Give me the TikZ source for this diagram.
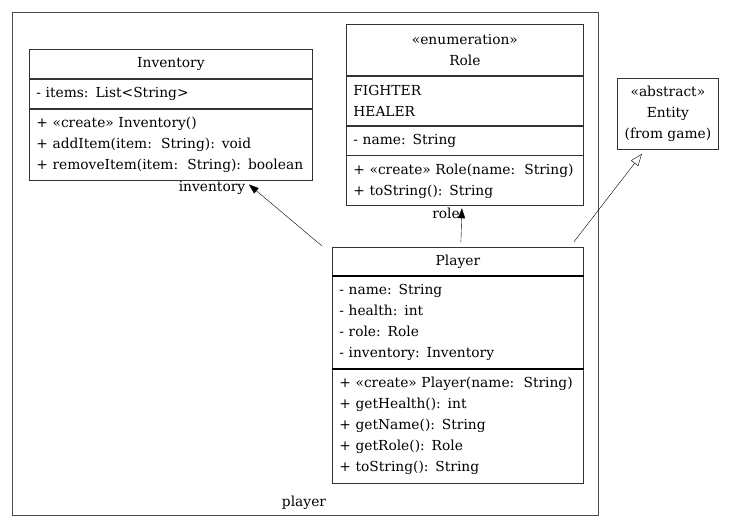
\documentclass[tikz,border=0pt]{standalone}
\usepackage{fontspec}
\setmainfont{DejaVu Serif}
\usetikzlibrary{arrows.meta}

\begin{document}
\begin{tikzpicture}[x=1pt,y=-1pt,
    box/.style={draw=black!80, line width=0.8pt, anchor=north west, inner xsep=7pt, inner ysep=0pt, font=\fontsize{13.8}{21}\selectfont},
    lbl/.style={font=\fontsize{13.8}{21}\selectfont}]
\useasboundingbox (0,0) rectangle (731,528);
% package player
\node (pkg) [draw=black!70, line width=1.2pt, anchor=north west, minimum width=586, minimum height=503, inner sep=0pt] at (12,12) {};
\node (pkglbl) [lbl] at (304,503) {player};
% Inventory
\node (invT) [box, minimum width=283, minimum height=29, align=center] at (29,49) {Inventory};
\node (invA) [box, minimum height=29, text width=269, align=left] at (invT.south west) {- items: List<String>};
\node (invM) [box, minimum height=71, text width=269, align=left] at (invA.south west) {+ «create» Inventory()\\+ addItem(item:\ \ String): void\\+ removeItem(item:\ \ String): boolean};
% Role
\node (roleT) [box, minimum width=237, minimum height=51, align=center] at (346,24) {«enumeration»\\Role};
\node (roleE) [box, minimum height=49, text width=223, align=left] at (roleT.south west) {FIGHTER\\HEALER};
\node (roleA) [box, minimum height=29, text width=223, align=left] at (roleE.south west) {- name: String};
\node (roleM) [box, minimum height=50, text width=223, align=left] at (roleA.south west) {+ «create» Role(name:\ \ String)\\+ toString(): String};
% Entity
\node (ent) [box, minimum width=101, minimum height=71, inner xsep=0pt, align=center] at (617,78) {«abstract»\\Entity\\(from game)};
% Player
\node (plT) [box, minimum width=251, minimum height=28, align=center] at (332,247) {Player};
\node (plA) [box, minimum height=92, text width=237, align=left] at (plT.south west) {- name: String\\- health: int\\- role: Role\\- inventory: Inventory};
\node (plM) [box, minimum height=114, text width=237, align=left] at (plA.south west) {+ «create» Player(name:\ \ String)\\+ getHealth(): int\\+ getName(): String\\+ getRole(): Role\\+ toString(): String};
\draw [line width=2pt] (plT.south west) -- (plT.south east);
\draw [line width=2pt] (plA.south west) -- (plA.south east);
% associations
\draw [-{Triangle[length=10pt,width=7pt]}] ([xshift=-10,yshift=1]plT.north west) -- ([xshift=-64,yshift=-4]invM.south east);
\node (invlbl) [lbl] at (212,188) {inventory};
\draw [-{Triangle[length=10pt,width=7pt]}] ([xshift=3,yshift=5]plT.north) -- ([xshift=-3,yshift=-2]roleM.south);
\node (rolelbl) [lbl] at (446,213) {role};
% generalization
\draw [-{Triangle[open,length=12pt,width=9pt]}] ([xshift=-10,yshift=5]plT.north east) -- ([xshift=-26,yshift=-4]ent.south);
\end{tikzpicture}
\end{document}
